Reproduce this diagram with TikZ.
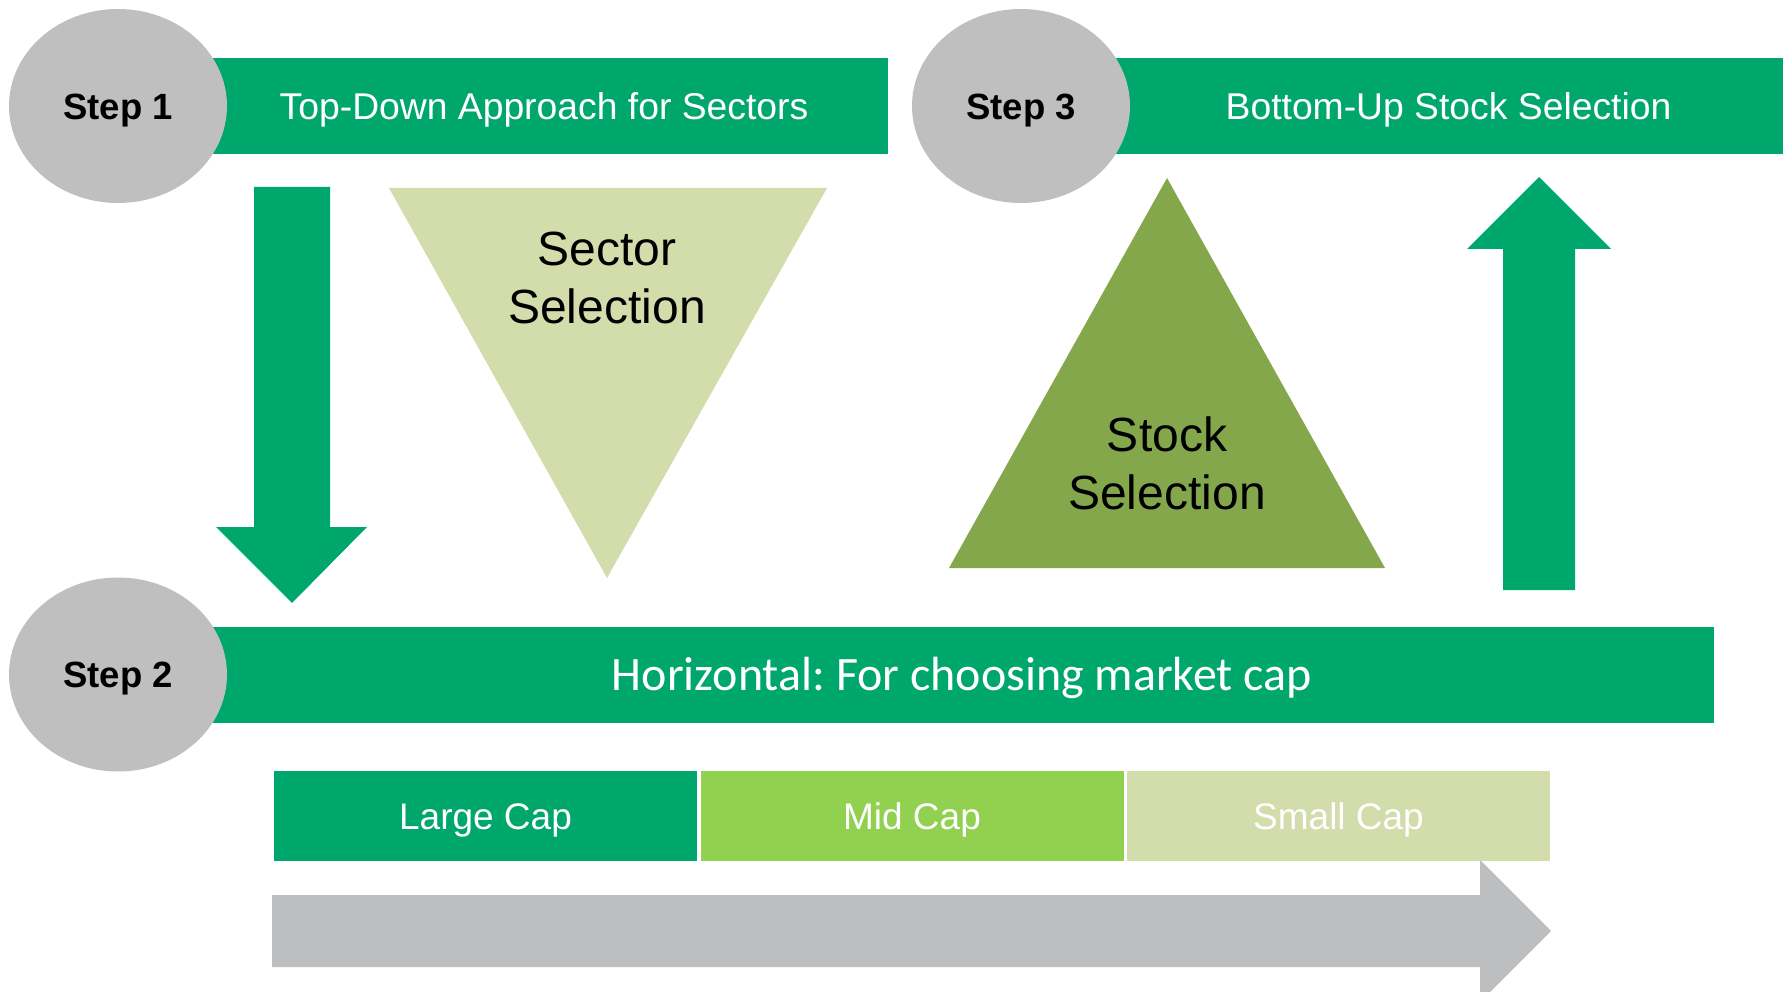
\documentclass[tikz,border=0pt]{standalone}
\usepackage{fontspec}
\setmainfont{Liberation Sans}
\newfontfamily\calfont{Carlito}
\usetikzlibrary{shapes.geometric}
\definecolor{mygreen}{HTML}{00A76D}
\definecolor{stepgray}{HTML}{BFBFBF}
\definecolor{arrowgray}{HTML}{BDBEC0}
\definecolor{palegreen}{HTML}{D3DCAB}
\definecolor{olivegreen}{HTML}{84A74C}
\definecolor{midgreen}{HTML}{92D050}
\frenchspacing
\begin{document}
\begin{tikzpicture}[x=1pt,y=-1pt,
  stepoval/.style={ellipse, fill=stepgray, minimum width=218pt, minimum height=194pt, inner sep=0pt,
    font=\bfseries\fontsize{36.5}{43}\selectfont, text height=26.1pt, text depth=0pt},
  bar/.style={rectangle, fill=mygreen, inner sep=0pt, minimum height=96pt, text=white,
    font=\fontsize{37.3}{44}\selectfont, text height=26.7pt, text depth=0pt},
  bartext/.style={inner sep=0pt, text=white,
    font=\fontsize{37.3}{44}\selectfont, text height=26.7pt, text depth=0pt},
  capbox/.style={rectangle, inner sep=0pt, minimum height=90pt, minimum width=423pt, text=white,
    font=\fontsize{37}{44}\selectfont, text height=26.5pt, text depth=0pt},
  bigtext/.style={align=center, inner sep=0pt, font=\fontsize{48}{58}\selectfont,
    text height=92.4pt, text depth=0pt}]
\useasboundingbox (0,0) rectangle (1783,992);
\clip (0,0) rectangle (1783,992);
% bars
\node[bar, minimum width=688pt] (bar1) at (544,106) {Top-Down Approach for Sectors};
\node[bar, minimum width=669pt] (bar3) at (1448.5,106) {Bottom-Up Stock Selection};
\node[bar, minimum width=1504pt, font=\calfont\fontsize{48}{56}\selectfont, text height=30.9pt] (bar2) at (962,675) {Horizontal: For choosing market cap};
% step ovals
\node[stepoval] (s1) at (118,106) {Step 1};
\node[stepoval] (s3) at (1021,106) {Step 3};
\node[stepoval] (s2) at (118,674.5) {Step 2};
% down arrow
\fill[mygreen] (254,187) -- (330,187) -- (330,527) -- (367,527) -- (292,603) -- (216,527) -- (254,527) -- cycle;
% sector triangle
\fill[palegreen] (389,188) -- (827,188) -- (607,578) -- cycle;
\node[bigtext] (sector) at (607,277) {Sector\\Selection};
% stock triangle
\fill[olivegreen] (1167,178) -- (1385,568) -- (949,568) -- cycle;
\node[bigtext] (stock) at (1167,463) {Stock\\Selection};
% up arrow
\fill[mygreen] (1503,590) -- (1575,590) -- (1575,249) -- (1611,249) -- (1539,177) -- (1467,249) -- (1503,249) -- cycle;
% cap boxes
\node[capbox, fill=mygreen] (large) at (485.5,816) {Large Cap};
\node[capbox, fill=midgreen] (mid) at (912,816) {Mid Cap};
\node[capbox, fill=palegreen] (small) at (1338.5,816) {Small Cap};
% grey arrow
\fill[arrowgray] (272,895) -- (1480,895) -- (1480,860) -- (1551,931) -- (1480,1002) -- (1480,967) -- (272,967) -- cycle;
\end{tikzpicture}
\end{document}
